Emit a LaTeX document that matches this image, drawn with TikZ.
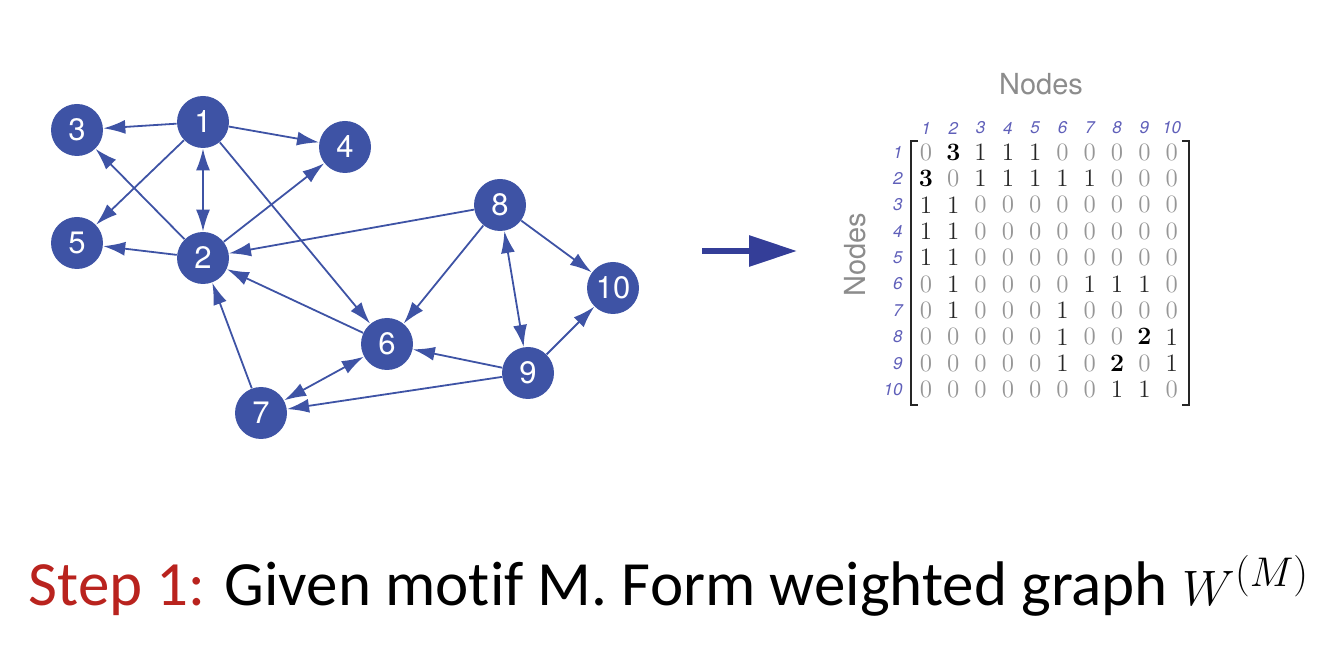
\documentclass[tikz,border=0pt]{standalone}
\usepackage{amsmath}
\usepackage{fontspec}
\usepackage{tikz}
\usetikzlibrary{arrows.meta,positioning,calc}
\usepackage{xcolor}
\newfontfamily\heros{TeX Gyre Heros}
\newfontfamily\capfont[Ligatures=NoCommon]{Carlito}
\definecolor{gblue}{RGB}{62,83,165}
\definecolor{gdarkblue}{RGB}{52,62,152}
\definecolor{idxblue}{RGB}{95,95,185}
\definecolor{zgray}{RGB}{150,150,150}
\definecolor{lblgray}{RGB}{140,140,140}
\definecolor{stepred}{RGB}{185,35,30}
\tikzstyle{vertex} = [circle, fill=gblue, text=white, minimum size=26pt, inner sep=0pt, font=\heros\fontsize{15.5}{18}\selectfont]
\tikzstyle{edge} = [draw=gblue, line width=0.9pt, -{Latex[length=11pt,width=7pt]}]
\tikzstyle{biedge} = [draw=gblue, line width=0.9pt, {Latex[length=11pt,width=7pt]}-{Latex[length=11pt,width=7pt]}]
\tikzstyle{entry} = [inner sep=0pt, font=\fontsize{12.5}{14}\selectfont]
\tikzstyle{idx} = [inner sep=0pt, text=idxblue, font=\heros\itshape\fontsize{8.5}{10}\selectfont]
\newcommand{\zz}{\textcolor{zgray}{0}}
\newcommand{\on}{\textcolor{black!85}{1}}
\newcommand{\bth}{\textbf{3}}
\newcommand{\btw}{\textbf{2}}
\begin{document}
\begin{tikzpicture}[x=0.5pt,y=-0.5pt]
\useasboundingbox (0,0) rectangle (1328,662);

% graph
\node[vertex] (n1) at (203,122) {1};
\node[vertex] (n2) at (203,258) {2};
\node[vertex] (n3) at (77,130) {3};
\node[vertex] (n4) at (345,147) {4};
\node[vertex] (n5) at (77,243) {5};
\node[vertex] (n6) at (387,344) {6};
\node[vertex] (n7) at (261,413) {7};
\node[vertex] (n8) at (500,205) {8};
\node[vertex] (n9) at (528,373) {9};
\node[vertex] (n10) at (613,288) {10};

\draw[edge] (n1) -- (n3);
\draw[edge] (n1) -- (n4);
\draw[edge] (n1) -- (n5);
\draw[edge] (n1) -- (n6);
\draw[biedge] (n1) -- (n2);
\draw[edge] (n2) -- (n3);
\draw[edge] (n2) -- (n4);
\draw[edge] (n2) -- (n5);
\draw[edge] (n8) -- (n2);
\draw[edge] (n6) -- (n2);
\draw[edge] (n7) -- (n2);
\draw[edge] (n8) -- (n6);
\draw[biedge] (n8) -- (n9);
\draw[edge] (n8) -- (n10);
\draw[edge] (n9) -- (n10);
\draw[edge] (n9) -- (n6);
\draw[edge] (n9) -- (n7);
\draw[biedge] (n7) -- (n6);

% big arrow
\coordinate (arrA) at (702,251);
\coordinate (arrB) at (797,251);
\draw[draw=gdarkblue, line width=3pt, -{Triangle[length=24pt,width=15pt]}] (arrA) -- (arrB);

% matrix
\node[text=lblgray, font=\heros\fontsize{14.5}{17}\selectfont] (coltitle) at (1041,84) {Nodes};
\node[text=lblgray, font=\heros\fontsize{14.5}{17}\selectfont, rotate=90] (rowtitle) at (855,255) {Nodes};

\foreach \k in {1,...,10} {
  \node[idx] (c\k) at ({926+(\k-1)*27.3},128) {\k};
  \node[idx, anchor=east] (r\k) at (903,{152+(\k-1)*26.4}) {\k};
}

\foreach \row [count=\i] in {
  {\zz,\bth,\on,\on,\on,\zz,\zz,\zz,\zz,\zz},
  {\bth,\zz,\on,\on,\on,\on,\on,\zz,\zz,\zz},
  {\on,\on,\zz,\zz,\zz,\zz,\zz,\zz,\zz,\zz},
  {\on,\on,\zz,\zz,\zz,\zz,\zz,\zz,\zz,\zz},
  {\on,\on,\zz,\zz,\zz,\zz,\zz,\zz,\zz,\zz},
  {\zz,\on,\zz,\zz,\zz,\zz,\on,\on,\on,\zz},
  {\zz,\on,\zz,\zz,\zz,\on,\zz,\zz,\zz,\zz},
  {\zz,\zz,\zz,\zz,\zz,\on,\zz,\zz,\btw,\on},
  {\zz,\zz,\zz,\zz,\zz,\on,\zz,\btw,\zz,\on},
  {\zz,\zz,\zz,\zz,\zz,\zz,\zz,\on,\on,\zz}} {
  \foreach \v [count=\j] in \row {
    \node[entry] (m\i-\j) at ({926+(\j-1)*27.3},{152+(\i-1)*26.4}) {\v};
  }
}

% brackets
\draw[line width=1pt, black!85] (918,141) -- (911,141) -- (911,405) -- (918,405);
\draw[line width=1pt, black!85] (1182,141) -- (1189,141) -- (1189,405) -- (1182,405);

% caption
\node[anchor=base, inner sep=0pt, font=\capfont\fontsize{31.5}{36}\selectfont] (caption) at (669,605)
  {\textcolor{stepred}{Step 1:} Given motif M. Form weighted graph $W^{(M)}$};
\end{tikzpicture}
\end{document}
